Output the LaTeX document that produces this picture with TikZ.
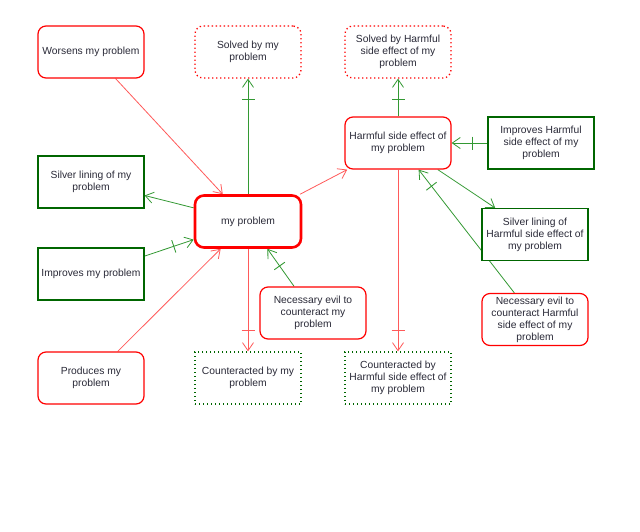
\documentclass[tikz,border=0pt]{standalone}
\usepackage{fontspec}
\setmainfont{Liberation Sans}
\usetikzlibrary{arrows.meta,decorations.markings,backgrounds}
\definecolor{rd}{HTML}{FF0000}
\definecolor{rdline}{HTML}{FF5A5A}
\definecolor{gn}{HTML}{006600}
\definecolor{gnline}{HTML}{339933}
\definecolor{txt}{HTML}{2A2A38}
\begin{document}
\begin{tikzpicture}[x=1pt,y=-1pt,
  box/.style={minimum width=106pt, minimum height=52pt, align=center, fill=white,
    text=txt, font=\fontsize{10.3}{12}\selectfont, inner sep=1pt, line width=1.2pt},
  redbox/.style={box, draw=rd, rounded corners=8pt},
  bigbox/.style={box, draw=rd, rounded corners=9pt, line width=2.6pt},
  greenbox/.style={box, draw=gn},
  reddot/.style={box, draw=rd, rounded corners=8pt, line width=1.3pt, dash pattern=on 1.3pt off 2.7pt},
  greendot/.style={box, draw=gn, line width=1.3pt, dash pattern=on 1.3pt off 2.7pt},
  conn/.style={line width=0.8pt, -{Straight Barb[length=8pt,width=11pt]}},
  redconn/.style={conn, draw=rdline},
  greenconn/.style={conn, draw=gnline},
  tickmark/.style={postaction={decorate}, decoration={markings,
    mark=at position -21pt with {\draw[-, #1, line width=0.9pt, solid] (0,-6.5pt) -- (0,6.5pt);}}}
]
\useasboundingbox (0,0) rectangle (640,531);

\node[redbox]   (worsens) at (91,52)    {Worsens my problem};
\node[reddot]   (solved1) at (248,52)   {Solved by my\\problem};
\node[reddot]   (solved2) at (398,52)   {Solved by Harmful\\side effect of my\\problem};
\node[redbox]   (harm)    at (398,143)  {Harmful side effect of\\my problem};
\node[greenbox] (impH)    at (541,143)  {Improves Harmful\\side effect of my\\problem};
\node[greenbox] (silver1) at (91,182)   {Silver lining of my\\problem};
\node[bigbox]   (prob)    at (248,221.5){my problem};
\node[greenbox] (silverH) at (535,234.5){Silver lining of\\Harmful side effect of\\my problem};
\node[greenbox] (imp1)    at (91,274)   {Improves my problem};
\node[redbox]   (nec1)    at (313,313)  {Necessary evil to\\counteract my\\problem};
\node[redbox]   (necH)    at (535,319.5){Necessary evil to\\counteract Harmful\\side effect of my\\problem};
\node[redbox]   (prod)    at (91,378)   {Produces my\\problem};
\node[greendot] (cnt1)    at (248,378)  {Counteracted by my\\problem};
\node[greendot] (cntH)    at (398,378)  {Counteracted by\\Harmful side effect of\\my problem};

\begin{scope}[on background layer]
\fill[white] (0,0) rectangle (640,531);
\draw[redconn] (worsens) -- (prob);
\draw[greenconn, tickmark=gnline] (prob) -- (solved1);
\draw[greenconn] (prob) -- (silver1);
\draw[greenconn, tickmark=gnline] (imp1) -- (prob);
\draw[redconn] (prod) -- (prob);
\draw[redconn, tickmark=rdline] (prob) -- (cnt1);
\draw[greenconn, tickmark=gnline] (nec1) -- (prob);
\draw[redconn] (prob) -- (harm);
\draw[greenconn, tickmark=gnline] (harm) -- (solved2);
\draw[greenconn, tickmark=gnline] (impH) -- (harm);
\draw[greenconn] (harm) -- (silverH);
\draw[greenconn, tickmark=gnline] (necH) -- (harm);
\draw[redconn, tickmark=rdline] (harm) -- (cntH);
\end{scope}
\end{tikzpicture}
\end{document}
